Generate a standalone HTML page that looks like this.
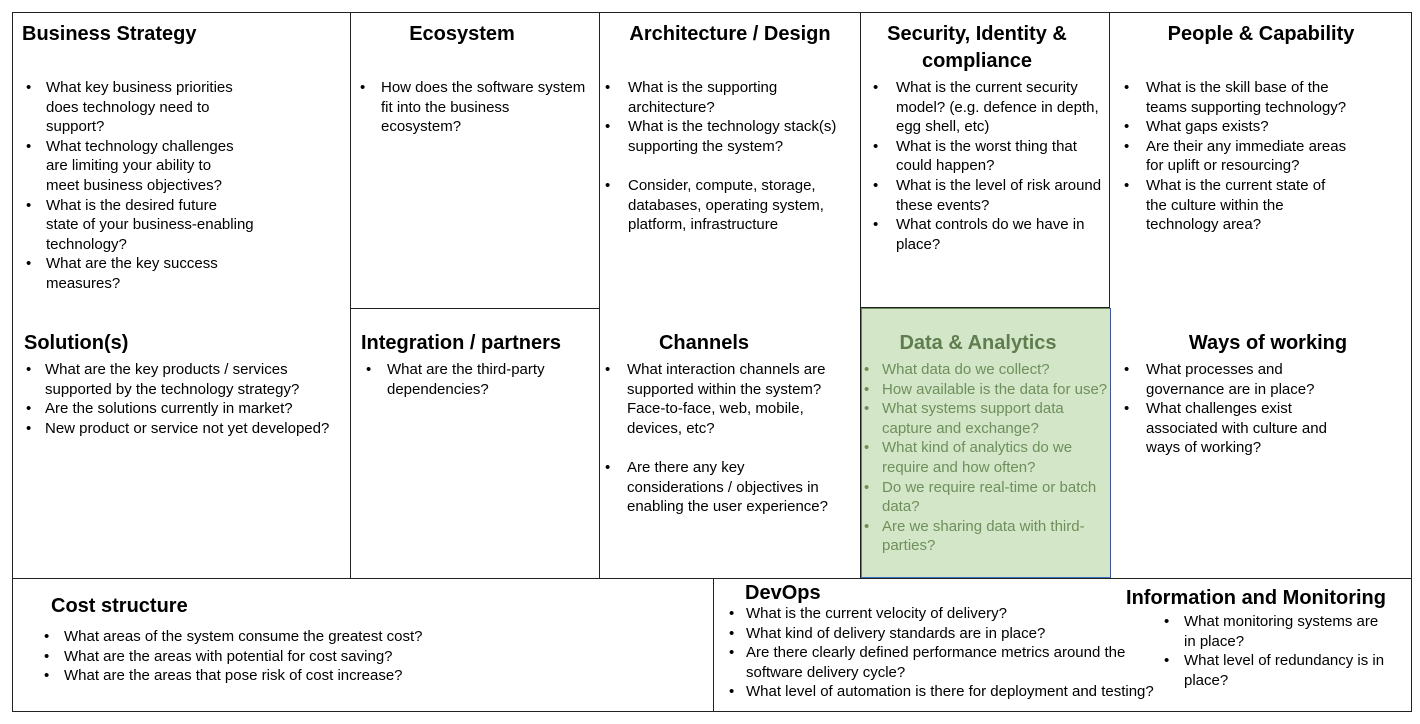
<!DOCTYPE html>
<html><head><meta charset="utf-8"><style>
*{margin:0;padding:0;box-sizing:border-box}
body{width:1420px;height:724px;background:#fff;position:relative;overflow:hidden;font-family:"Liberation Sans",sans-serif;color:#000}
.l{position:absolute;background:#222}
.t{position:absolute;font-weight:bold;font-size:20px;line-height:27px;white-space:nowrap}
.b{position:absolute;font-size:15px;line-height:19.6px;white-space:nowrap}
.b div{position:relative}
.b div span{position:absolute}
.g{color:#6e8f5c}
</style></head><body>
<div style="position:absolute;left:861px;top:308px;width:250px;height:270px;background:#d3e6c8;border:1px solid #6a8a55;border-right-color:#3a55a0;border-bottom-color:#3a70c0"></div>
<div class="l" style="left:12px;top:12px;width:1400px;height:1px"></div>
<div class="l" style="left:12px;top:711px;width:1400px;height:1px"></div>
<div class="l" style="left:12px;top:12px;width:1px;height:700px"></div>
<div class="l" style="left:1411px;top:12px;width:1px;height:700px"></div>
<div class="l" style="left:12px;top:578px;width:1400px;height:1px"></div>
<div class="l" style="left:350px;top:12px;width:1px;height:566px"></div>
<div class="l" style="left:599px;top:12px;width:1px;height:566px"></div>
<div class="l" style="left:860px;top:12px;width:1px;height:566px"></div>
<div class="l" style="left:1109px;top:12px;width:1px;height:296px"></div>
<div class="l" style="left:1110px;top:308px;width:1px;height:270px;background:#3a55a0"></div>
<div class="l" style="left:350px;top:308px;width:249px;height:1px"></div>
<div class="l" style="left:860px;top:307px;width:250px;height:1px"></div>
<div class="l" style="left:713px;top:578px;width:1px;height:134px"></div>

<div class="t" style="left:22px;top:21px">Business Strategy</div>
<div class="b" style="left:26px;top:78px">
<div><span>•</span><span style="left:20px">What key business priorities<br>does technology need to<br>support?</span><br><br><br></div>
<div><span>•</span><span style="left:20px">What technology challenges<br>are limiting your ability to<br>meet business objectives?</span><br><br><br></div>
<div><span>•</span><span style="left:20px">What is the desired future<br>state of your business-enabling<br>technology?</span><br><br><br></div>
<div><span>•</span><span style="left:20px">What are the key success<br>measures?</span></div>
</div>

<div class="t" style="left:351px;width:222px;text-align:center;top:21px">Ecosystem</div>
<div class="b" style="left:360px;top:78px"><div><span>•</span><span style="left:21px">How does the software system<br>fit into the business<br>ecosystem?</span></div></div>

<div class="t" style="left:600px;width:260px;text-align:center;top:21px">Architecture / Design</div>
<div class="b" style="left:605px;top:78px">
<div><span>•</span><span style="left:23px">What is the supporting<br>architecture?</span><br><br></div>
<div><span>•</span><span style="left:23px">What is the technology stack(s)<br>supporting the system?</span><br><br><br></div>
<div><span>•</span><span style="left:23px">Consider, compute, storage,<br>databases, operating system,<br>platform, infrastructure</span></div>
</div>

<div class="t" style="left:861px;width:232px;text-align:center;top:21px;white-space:normal">Security, Identity &amp; compliance</div>
<div class="b" style="left:873px;top:78px">
<div><span>•</span><span style="left:23px">What is the current security<br>model? (e.g. defence in depth,<br>egg shell, etc)</span><br><br><br></div>
<div><span>•</span><span style="left:23px">What is the worst thing that<br>could happen?</span><br><br></div>
<div><span>•</span><span style="left:23px">What is the level of risk around<br>these events?</span><br><br></div>
<div><span>•</span><span style="left:23px">What controls do we have in<br>place?</span></div>
</div>

<div class="t" style="left:1110px;width:302px;text-align:center;top:21px">People &amp; Capability</div>
<div class="b" style="left:1124px;top:78px">
<div><span>•</span><span style="left:22px">What is the skill base of the<br>teams supporting technology?</span><br><br></div>
<div><span>•</span><span style="left:22px">What gaps exists?</span><br></div>
<div><span>•</span><span style="left:22px">Are their any immediate areas<br>for uplift or resourcing?</span><br><br></div>
<div><span>•</span><span style="left:22px">What is the current state of<br>the culture within the<br>technology area?</span></div>
</div>

<div class="t" style="left:24px;top:330px">Solution(s)</div>
<div class="b" style="left:26px;top:360px">
<div><span>•</span><span style="left:19px">What are the key products / services<br>supported by the technology strategy?</span><br><br></div>
<div><span>•</span><span style="left:19px">Are the solutions currently in market?</span><br></div>
<div><span>•</span><span style="left:19px">New product or service not yet developed?</span></div>
</div>

<div class="t" style="left:361px;top:330px">Integration / partners</div>
<div class="b" style="left:366px;top:360px"><div><span>•</span><span style="left:21px">What are the third-party<br>dependencies?</span></div></div>

<div class="t" style="left:600px;width:208px;text-align:center;top:330px">Channels</div>
<div class="b" style="left:605px;top:360px">
<div><span>•</span><span style="left:22px">What interaction channels are<br>supported within the system?<br>Face-to-face, web, mobile,<br>devices, etc?</span><br><br><br><br><br></div>
<div><span>•</span><span style="left:22px">Are there any key<br>considerations / objectives in<br>enabling the user experience?</span></div>
</div>

<div class="t g" style="left:861px;width:234px;text-align:center;top:330px;color:#5f7d4f">Data &amp; Analytics</div>
<div class="b g" style="left:864px;top:360px">
<div><span>•</span><span style="left:18px">What data do we collect?</span><br></div>
<div><span>•</span><span style="left:18px">How available is the data for use?</span><br></div>
<div><span>•</span><span style="left:18px">What systems support data<br>capture and exchange?</span><br><br></div>
<div><span>•</span><span style="left:18px">What kind of analytics do we<br>require and how often?</span><br><br></div>
<div><span>•</span><span style="left:18px">Do we require real-time or batch<br>data?</span><br><br></div>
<div><span>•</span><span style="left:18px">Are we sharing data with third-<br>parties?</span></div>
</div>

<div class="t" style="left:1124px;width:288px;text-align:center;top:330px">Ways of working</div>
<div class="b" style="left:1124px;top:360px">
<div><span>•</span><span style="left:22px">What processes and<br>governance are in place?</span><br><br></div>
<div><span>•</span><span style="left:22px">What challenges exist<br>associated with culture and<br>ways of working?</span></div>
</div>

<div class="t" style="left:51px;top:593px">Cost structure</div>
<div class="b" style="left:44px;top:627px">
<div><span>•</span><span style="left:20px">What areas of the system consume the greatest cost?</span><br></div>
<div><span>•</span><span style="left:20px">What are the areas with potential for cost saving?</span><br></div>
<div><span>•</span><span style="left:20px">What are the areas that pose risk of cost increase?</span></div>
</div>

<div class="t" style="left:745px;top:580px">DevOps</div>
<div class="b" style="left:729px;top:604px">
<div><span>•</span><span style="left:17px">What is the current velocity of delivery?</span><br></div>
<div><span>•</span><span style="left:17px">What kind of delivery standards are in place?</span><br></div>
<div><span>•</span><span style="left:17px">Are there clearly defined performance metrics around the<br>software delivery cycle?</span><br><br></div>
<div><span>•</span><span style="left:17px">What level of automation is there for deployment and testing?</span></div>
</div>

<div class="t" style="left:1112px;width:288px;text-align:center;top:585px">Information and Monitoring</div>
<div class="b" style="left:1164px;top:612px">
<div><span>•</span><span style="left:20px">What monitoring systems are<br>in place?</span><br><br></div>
<div><span>•</span><span style="left:20px">What level of redundancy is in<br>place?</span></div>
</div>
</body></html>
